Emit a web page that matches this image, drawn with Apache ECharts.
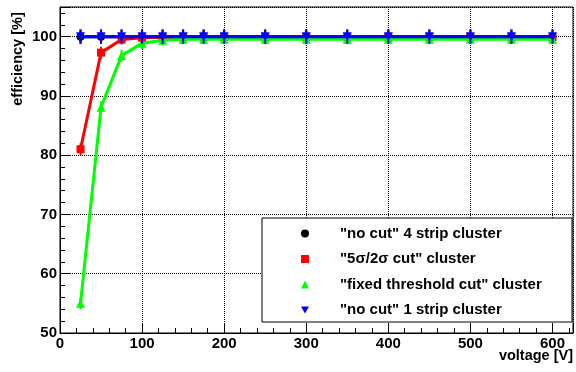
<!DOCTYPE html>
<html><head><meta charset="utf-8">
<script src="https://cdn.jsdelivr.net/npm/echarts@6/dist/echarts.min.js"></script>
<style>html,body{margin:0;padding:0;background:#fff}#c{width:576px;height:372px}</style>
</head><body><div id="c"></div>
<script>
var voltage = [25,50,75,100,125,150,175,200,250,300,350,400,450,500,550,600];
var noCut4 = [100,100,100,100,100,100,100,100,100,100,100,100,100,100,100,100];
var noCut4Err = [1.2,1.2,1.2,1.2,1.2,1.2,1.2,1.2,1.2,1.2,1.2,1.2,1.2,1.2,1.2,1.2];
var cut5s2s = [81.0,97.3,99.5,99.8,99.9,99.9,99.9,99.9,99.9,99.9,99.9,99.9,99.9,99.9,99.9,99.9];
var cut5s2sErr = [1.0,1.0,0.8,0.6,0.6,0.6,0.6,0.6,0.6,0.6,0.6,0.6,0.6,0.6,0.6,0.6];
var fixedCut = [55.0,88.1,96.8,98.9,99.4,99.55,99.55,99.55,99.55,99.55,99.55,99.55,99.55,99.55,99.55,99.55];
var fixedCutErr = [1.0,1.0,1.0,1.0,0.8,0.8,0.8,0.8,0.8,0.8,0.8,0.8,0.8,0.8,0.8,0.8];
var noCut1 = [100,100,100,100,100,100,100,100,100,100,100,100,100,100,100,100];
var noCut1Err = [1.2,1.2,1.2,1.2,1.2,1.2,1.2,1.2,1.2,1.2,1.2,1.2,1.2,1.2,1.2,1.2];
var names = ['"no cut" 4 strip cluster','"5σ/2σ cut" cluster','"fixed threshold cut" cluster','"no cut" 1 strip cluster'];
var colors = ['#000000','#ff0000','#00ff00','#0000ff'];

var FONT = '"Liberation Sans", Arial, sans-serif';
function pts(v){ return voltage.map(function(x,i){return [x, v[i]];}); }
function errs(v,e){ return voltage.map(function(x,i){return [x, v[i]-e[i], v[i]+e[i]];}); }
function errSeries(v,e,color,z){
  return {type:'custom', name:'err'+z, z:z, silent:true, data:errs(v,e), encode:{x:0,y:[1,2]},
    renderItem:function(params, api){
      var a = api.coord([api.value(0), api.value(1)]);
      var b = api.coord([api.value(0), api.value(2)]);
      return {type:'line', shape:{x1:a[0],y1:a[1],x2:b[0],y2:b[1]}, style:{stroke:color, lineWidth:2}};
    }};
}
function lineSeries(i, v, symbol, size, rot){
  return {type:'line', name:names[i], z:2+i, data:pts(v), symbol:symbol, symbolSize:size, symbolRotate:rot||0,
    showAllSymbol:true, itemStyle:{color:colors[i]}, lineStyle:{color:colors[i], width:3}, animation:false};
}
var chart = echarts.init(document.getElementById('c'));
var axisTxt = {color:'#000', fontFamily:FONT, fontWeight:'bold', fontSize:15};
chart.setOption({
  animation:false,
  grid:{left:60, top:7, width:513, height:326, show:true, borderColor:'#000', borderWidth:1, backgroundColor:'#fff'},
  xAxis:[
    {type:'value', min:0, max:625, interval:100,
     axisLine:{lineStyle:{color:'#000',width:1}},
     axisTick:{inside:true, length:10, lineStyle:{color:'#000'}},
     axisLabel:Object.assign({margin:3, formatter:function(v){return v%100===0?String(v):'';}}, axisTxt),
     splitLine:{show:true, lineStyle:{color:'#000', type:'dotted', width:1}}},
    {type:'value', min:0, max:625, interval:20, position:'bottom',
     axisLine:{show:false}, axisTick:{inside:true, length:5, lineStyle:{color:'#000'}},
     axisLabel:{show:false}, splitLine:{show:false}}
  ],
  yAxis:[
    {type:'value', min:50, max:105, interval:10,
     axisLine:{lineStyle:{color:'#000',width:1}},
     axisTick:{inside:true, length:10, lineStyle:{color:'#000'}},
     axisLabel:Object.assign({margin:3, formatter:function(v){return v%10===0?String(v):'';}}, axisTxt),
     splitLine:{show:true, lineStyle:{color:'#000', type:'dotted', width:1}}},
    {type:'value', min:50, max:105, interval:2, position:'left',
     axisLine:{show:false}, axisTick:{inside:true, length:5, lineStyle:{color:'#000'}},
     axisLabel:{show:false}, splitLine:{show:false}}
  ],
  legend:{
    orient:'vertical', left:296, top:220, z:101, itemWidth:8, itemHeight:8, itemGap:8.5,
    selectedMode:false,
    textStyle:{color:'#000', fontFamily:FONT, fontWeight:'bold', fontSize:15, lineHeight:17, padding:[0,0,0,26]},
    data:[
      {name:names[0], icon:'circle'},
      {name:names[1], icon:'rect'},
      {name:names[2], icon:'triangle'},
      {name:names[3], icon:'path://M0,0L10,0L5,9Z'}
    ]
  },
  graphic:[
    {type:'rect', z:100, shape:{x:262, y:218, width:310, height:104}, style:{fill:'#fff', stroke:'#000', lineWidth:1}},
    {type:'text', z:100, x:18, y:59, rotation:Math.PI/2,
     style:{text:'efficiency [%]', fill:'#000', font:'bold 14.5px '+FONT, textAlign:'center', textVerticalAlign:'middle'}},
    {type:'text', z:100, x:573, y:356,
     style:{text:'voltage [V]', fill:'#000', font:'bold 14.5px '+FONT, textAlign:'right', textVerticalAlign:'middle'}}
  ],
  series:[
    lineSeries(0, noCut4, 'circle', 8),
    errSeries(noCut4, noCut4Err, colors[0], 2),
    lineSeries(1, cut5s2s, 'rect', 8),
    errSeries(cut5s2s, cut5s2sErr, colors[1], 3),
    lineSeries(2, fixedCut, 'triangle', 9),
    errSeries(fixedCut, fixedCutErr, colors[2], 4),
    lineSeries(3, noCut1, 'triangle', 9, 180),
    errSeries(noCut1, noCut1Err, colors[3], 5)
  ]
});
</script></body></html>
